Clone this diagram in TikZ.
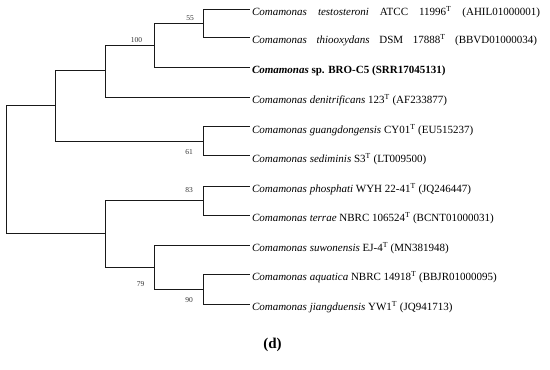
\documentclass[tikz,border=0pt]{standalone}
\usepackage{fontspec}
\setmainfont{Liberation Serif}
\begin{document}
\begin{tikzpicture}[x=1pt, y=-1pt, node distance=14pt]
    % Styles
    \tikzstyle{branch} = [draw=black!90, line width=1pt]
    \tikzstyle{leaf} = [anchor=west, inner xsep=2pt, inner ysep=0pt, outer sep=0pt, text height=13pt, text depth=0pt, font=\fontsize{11}{13}\selectfont]
    \tikzstyle{boot} = [inner sep=0pt, text=black!80, font=\fontsize{7.5}{9}\selectfont]

    \useasboundingbox (0,0) rectangle (550,370);

    % Inner nodes
    \coordinate (root) at (6,169);
    \coordinate (nA) at (55,105);
    \coordinate (nB) at (105,70.5);
    \coordinate (nC) at (154,45);
    \coordinate (nD) at (203,23);
    \coordinate (nE) at (203,141);
    \coordinate (nF) at (105,233);
    \coordinate (nG) at (203,200.5);
    \coordinate (nH) at (154,267);
    \coordinate (nI) at (203,289.3);

    % Leaves
    \node (testo) [leaf] at (250,9) {\makebox[288pt][s]{\textit{Comamonas testosteroni} ATCC 11996\textsuperscript{T} (AHIL01000001)}};
    \node (thio) [leaf] at (250,37.3) {\makebox[285pt][s]{\textit{Comamonas thiooxydans} DSM 17888\textsuperscript{T} (BBVD01000034)}};
    \node (bro) [leaf] at (250,67.3) {\textbf{\textit{Comamonas} sp. BRO-C5 (SRR17045131)}};
    \node (deni) [leaf] at (250,97.3) {\textit{Comamonas denitrificans} 123\textsuperscript{T} (AF233877)};
    \node (guang) [leaf] at (250,126.7) {\textit{Comamonas guangdongensis} CY01\textsuperscript{T} (EU515237)};
    \node (sedi) [leaf] at (250,155.7) {\textit{Comamonas sediminis} S3\textsuperscript{T} (LT009500)};
    \node (phos) [leaf] at (250,186) {\textit{Comamonas phosphati} WYH 22-41\textsuperscript{T} (JQ246447)};
    \node (terr) [leaf] at (250,215) {\textit{Comamonas terrae} NBRC 106524\textsuperscript{T} (BCNT01000031)};
    \node (suwo) [leaf] at (250,245) {\textit{Comamonas suwonensis} EJ-4\textsuperscript{T} (MN381948)};
    \node (aqua) [leaf] at (250,274.3) {\textit{Comamonas aquatica} NBRC 14918\textsuperscript{T} (BBJR01000095)};
    \node (jiang) [leaf] at (250,304) {\textit{Comamonas jiangduensis} YW1\textsuperscript{T} (JQ941713)};

    % Branches
    \draw [branch] (root) |- (nA);
    \draw [branch] (root) |- (nF);
    \draw [branch] (nA) |- (nB);
    \draw [branch] (nA) |- (nE);
    \draw [branch] (nB) |- (nC);
    \draw [branch] (nB) |- (deni);
    \draw [branch] (nC) |- (nD);
    \draw [branch] (nC) |- (bro);
    \draw [branch] (nD) |- (testo);
    \draw [branch] (nD) |- (thio);
    \draw [branch] (nE) |- (guang);
    \draw [branch] (nE) |- (sedi);
    \draw [branch] (nF) |- (nG);
    \draw [branch] (nF) |- (nH);
    \draw [branch] (nG) |- (phos);
    \draw [branch] (nG) |- (terr);
    \draw [branch] (nH) |- (suwo);
    \draw [branch] (nH) |- (nI);
    \draw [branch] (nI) |- (aqua);
    \draw [branch] (nI) |- (jiang);

    % Bootstrap values
    \node (bD) [boot, left of=nD, xshift=1pt, yshift=5pt] {55};
    \node (bC) [boot, left of=nC, xshift=-3.5pt, yshift=5pt] {100};
    \node (bE) [boot, left of=nE, yshift=-11.3pt] {61};
    \node (bG) [boot, left of=nG, yshift=10.8pt] {83};
    \node (bH) [boot, left of=nH, xshift=0.5pt, yshift=-16.7pt] {79};
    \node (bI) [boot, left of=nI, yshift=-11pt] {90};

    % Panel label
    \node (panel) [font=\fontsize{15}{18}\selectfont\bfseries] at (272.5,345) {(d)};
\end{tikzpicture}
\end{document}
